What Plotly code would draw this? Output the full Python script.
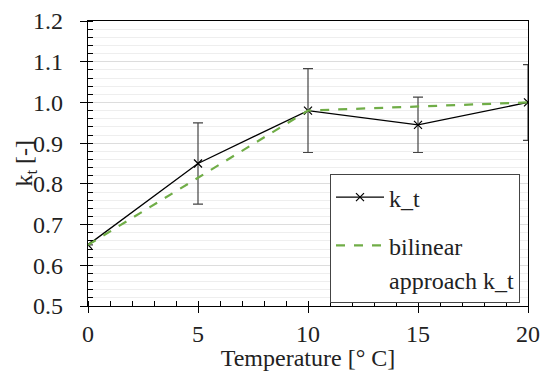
import plotly.graph_objects as go

temps = [0, 5, 10, 15, 20]
kt = [0.65, 0.85, 0.98, 0.945, 1.0]
kt_err = [0.0, 0.10, 0.103, 0.068, 0.093]
bilin_x = [0, 10, 20]
bilin_y = [0.65, 0.98, 1.0]

FONT = "Liberation Serif"
TXT = "#222222"
FS = 24

fig = go.Figure()
fig.add_trace(go.Scatter(
    x=temps, y=kt, mode="lines+markers", name="k_t",
    line=dict(color="black", width=1.3),
    marker=dict(symbol="x-thin", size=8, line=dict(color="black", width=1.2)),
    error_y=dict(type="data", array=kt_err, visible=True, color="#444444",
                 thickness=1.2, width=5),
    legendgroup="a",
))
fig.add_trace(go.Scatter(
    x=bilin_x, y=bilin_y, mode="lines", name="bilinear",
    line=dict(color="#70AD47", width=2.2, dash="dash"),
    legendgroup="b",
))
# second line of the legend label (no symbol)
fig.add_trace(go.Scatter(
    x=[None], y=[None], mode="lines", name="approach k_t",
    line=dict(color="rgba(0,0,0,0)", width=0),
    legendgroup="b", hoverinfo="skip",
))

fig.update_layout(
    width=542, height=371,
    margin=dict(l=88, r=14, t=21, b=65),
    plot_bgcolor="white", paper_bgcolor="white",
    font=dict(family=FONT, size=FS, color=TXT),
    showlegend=True,
    legend=dict(
        x=0.55, y=0.463, xanchor="left", yanchor="top",
        bordercolor="#444444", borderwidth=1, bgcolor="white",
        font=dict(family=FONT, size=FS, color=TXT),
        tracegroupgap=14, itemwidth=48,
    ),
    xaxis=dict(
        range=[0, 20], tickvals=[0, 5, 10, 15, 20], automargin=False,
        showgrid=False, zeroline=False,
        showline=True, linecolor="black", linewidth=1.3, mirror=True,
        ticks="outside", ticklen=6, tickcolor="black", tickwidth=1.2,
        tickfont=dict(family=FONT, size=FS, color=TXT),
        minor=dict(dtick=1, ticks="inside", ticklen=5, tickcolor="black", tickwidth=1, showgrid=False),
        title=dict(text="Temperature [° C]", font=dict(family=FONT, size=FS, color=TXT), standoff=0),
    ),
    yaxis=dict(
        range=[0.5, 1.2], dtick=0.1, tickformat=".1f", automargin=False,
        showgrid=True, gridcolor="#DDDDDD", gridwidth=1,
        zeroline=False,
        showline=True, linecolor="black", linewidth=1.3, mirror=True,
        ticks="outside", ticklen=7, tickcolor="black", tickwidth=1.2,
        ticksuffix="\u00a0\u00a0",
        tickfont=dict(family=FONT, size=FS, color=TXT),
        minor=dict(dtick=0.02, ticks="inside", ticklen=5, tickcolor="black", tickwidth=1,
                   showgrid=True, gridcolor="#EEEEEE", gridwidth=1),
    ),
    annotations=[dict(
        text="k<sub>t</sub> [-]", textangle=-90, showarrow=False,
        xref="paper", yref="paper", x=-0.143, y=0.5, xanchor="center", yanchor="middle",
        font=dict(family=FONT, size=FS, color=TXT),
    )],
)

fig.write_html("out.html")
